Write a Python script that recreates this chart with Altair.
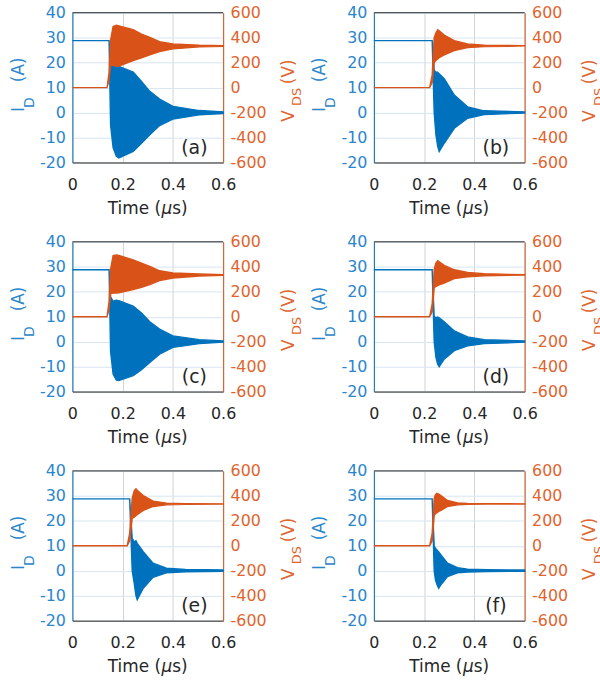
import altair as alt
import pandas as pd

# ---------------- data (envelopes of the ringing) ----------------
# time in microseconds, current envelope (A), voltage envelope (V)
t_a   = [0, 0.138, 0.146, 0.152, 0.162, 0.175, 0.185, 0.242, 0.275, 0.308, 0.347, 0.40, 0.505, 0.60]
ihi_a = [28.8, 28.8, 28.8, 20, 18.2, 18.9, 18.5, 16.2, 12.5, 8.5, 5.4, 2.5, 0.8, 0.3]
ilo_a = [28.8, 28.8, 28.8, -5, -14, -17.5, -18.2, -15.6, -12.3, -8.9, -5.2, -2.6, -0.9, -0.4]
vhi_a = [0, 0, 120, 380, 490, 500, 495, 464, 429, 403, 368, 350, 339, 336]
vlo_a = [0, 0, 60, 180, 178, 170, 172, 217, 238, 262, 289, 310, 326, 331]

t_b   = [0, 0.222, 0.232, 0.240, 0.247, 0.254, 0.260, 0.280, 0.320, 0.373, 0.439, 0.60]
ihi_b = [28.8, 28.8, 28.8, 17, 16.2, 16.2, 15.5, 13.6, 7, 2.3, 0.7, 0.3]
ilo_b = [28.8, 28.8, 28.8, 0, -9, -13.5, -15.6, -12.3, -6.3, -2.3, -0.8, -0.2]
vhi_b = [0, 0, 100, 400, 440, 464, 455, 421, 376, 350, 339, 336]
vlo_b = [0, 0, 40, 200, 217, 230, 240, 262, 297, 320, 328, 334]

t_c   = [0, 0.138, 0.146, 0.152, 0.162, 0.175, 0.185, 0.242, 0.275, 0.308, 0.347, 0.40, 0.505, 0.60]
ihi_c = [28.8, 28.8, 28.8, 18, 16.2, 16.6, 16.4, 14.2, 11.5, 8, 5, 2.3, 0.8, 0.3]
ilo_c = [28.8, 28.8, 28.8, -4, -13, -15.4, -15.6, -13.6, -11.2, -8.3, -5, -2.3, -0.8, -0.2]
vhi_c = [0, 0, 120, 380, 490, 495, 490, 456, 430, 403, 368, 350, 342, 336]
vlo_c = [0, 0, 60, 185, 190, 190, 192, 217, 236, 257, 289, 310, 326, 331]

t_d   = [0, 0.222, 0.232, 0.240, 0.247, 0.254, 0.260, 0.280, 0.320, 0.373, 0.439, 0.60]
ihi_d = [28.8, 28.8, 28.8, 10, 9.6, 9.9, 9.5, 8, 4.3, 1.9, 0.8, 0.3]
ilo_d = [28.8, 28.8, 28.8, 0, -6.3, -9, -10, -7, -3.6, -1.7, -0.8, -0.2]
vhi_d = [0, 0, 100, 380, 430, 448, 440, 411, 376, 355, 344, 336]
vlo_d = [0, 0, 40, 230, 244, 250, 255, 270, 305, 320, 328, 334]

t_e   = [0, 0.218, 0.228, 0.238, 0.246, 0.253, 0.258, 0.282, 0.321, 0.374, 0.45, 0.60]
ihi_e = [28.8, 28.8, 28.8, 13, 11.6, 12, 11, 7.6, 3, 1, 0.5, 0.3]
ilo_e = [28.8, 28.8, 28.8, 0, -5, -10, -11.6, -7, -2.6, -0.8, -0.4, -0.2]
vhi_e = [0, 0, 100, 380, 440, 456, 445, 403, 358, 342, 338, 336]
vlo_e = [0, 0, 40, 220, 230, 240, 250, 283, 315, 328, 332, 334]

t_f   = [0, 0.222, 0.232, 0.240, 0.245, 0.251, 0.258, 0.267, 0.293, 0.333, 0.373, 0.45, 0.60]
ihi_f = [28.8, 28.8, 28.8, 10, 9, 8.3, 7.5, 6.3, 3, 1.2, 0.6, 0.4, 0.3]
ilo_f = [28.8, 28.8, 28.8, 0, -3.6, -5.5, -7, -5.6, -2.3, -0.8, -0.5, -0.3, -0.2]
vhi_f = [0, 0, 100, 380, 410, 421, 415, 403, 363, 344, 339, 337, 336]
vlo_f = [0, 0, 40, 240, 257, 265, 275, 283, 315, 328, 332, 334, 334]

panel_labels = ["(a)", "(b)", "(c)", "(d)", "(e)", "(f)"]
x_ticks = [0, 0.2, 0.4, 0.6]
i_ticks = [-20, -10, 0, 10, 20, 30, 40]
v_ticks = [-600, -400, -200, 0, 200, 400, 600]

# ---------------- style ----------------
BLUE = "#0072BD"
ORANGE = "#D95319"
BLUE_TXT = "#2a86cc"
ORANGE_TXT = "#e0642e"
DARK = "#262626"
FONT = "DejaVu Sans"
W, H = 152, 151
LAB = 16
TIT = 17


def one(text):
    return alt.Chart(pd.DataFrame({"s": [text]}))


def rtext(text, size, color, x, y):
    return one(text).mark_text(
        text=text, fontSize=size, font=FONT, color=color, angle=270,
        align="left", baseline="alphabetic",
    ).encode(x=alt.value(x), y=alt.value(y))


def htext(text, size, color, x, y, style="normal"):
    return one(text).mark_text(
        text=text, fontSize=size, font=FONT, color=color, fontStyle=style,
        align="left", baseline="alphabetic",
    ).encode(x=alt.value(x), y=alt.value(y))


def panel(label, t, ihi, ilo, vhi, vlo):
    df = pd.DataFrame({"t": t, "ihi": ihi, "ilo": ilo, "vhi": vhi, "vlo": vlo})
    base = alt.Chart(df)
    xenc = alt.X(
        "t:Q",
        scale=alt.Scale(domain=[0, 0.6], nice=False, zero=False),
        axis=alt.Axis(
            values=x_ticks, labelExpr="'' + datum.value", title=None,
            grid=True, gridColor="#d2d2d2", gridWidth=1, labelFlush=False,
            domainColor=DARK, domainWidth=1, ticks=False,
            labelColor=DARK, labelFontSize=LAB, labelPadding=14, labelFont=FONT,
        ),
    )
    cur = base.mark_area(color=BLUE, stroke=BLUE, strokeWidth=1.4, opacity=1).encode(
        x=xenc,
        y=alt.Y(
            "ilo:Q",
            scale=alt.Scale(domain=[-20, 40], nice=False, zero=False),
            axis=alt.Axis(
                orient="left", values=i_ticks, labelExpr="'' + datum.value", title=None,
                grid=True, gridColor="#d6e5f2", gridWidth=1,
                domainColor=BLUE, domainWidth=1, ticks=False,
                labelColor=BLUE_TXT, labelFontSize=LAB, labelPadding=7, labelFont=FONT,
            ),
        ),
        y2="ihi:Q",
    )
    vol = base.mark_area(color=ORANGE, stroke=ORANGE, strokeWidth=1.4, opacity=1).encode(
        x=xenc,
        y=alt.Y(
            "vlo:Q",
            scale=alt.Scale(domain=[-600, 600], nice=False, zero=False),
            axis=alt.Axis(
                orient="right", values=v_ticks, labelExpr="'' + datum.value", title=None,
                grid=False, domainColor=ORANGE, domainWidth=1, ticks=False,
                labelColor=ORANGE_TXT, labelFontSize=LAB, labelPadding=7, labelFont=FONT,
            ),
        ),
        y2="vhi:Q",
    )
    top = one("").mark_rule(color=DARK, strokeWidth=1).encode(
        x=alt.value(0), x2=alt.value(W), y=alt.value(0)
    )
    tag = one(label).mark_text(
        fontSize=19, font=FONT, color=DARK, align="center", baseline="middle"
    ).encode(text="s:N", x=alt.value(123), y=alt.value(136))

    # x axis title  Time (μs)  with italic μ
    x0 = W / 2 - 40.3
    ty = H + 52
    x_title = [
        htext("Time (", TIT, DARK, x0, ty),
        htext("μ", TIT, DARK, x0 + 54.2, ty, "italic"),
        htext("s)", TIT, DARK, x0 + 65.0, ty),
    ]
    # left axis title  I_D (A)  (rotated, subscript D)
    lx = -49
    left_title = [
        rtext("I", 17, BLUE_TXT, lx, 100),
        rtext("D", 14, BLUE_TXT, lx + 10, 96),
        rtext("(A)", 17, BLUE_TXT, lx, 70),
    ]
    # right axis title  V_DS (V)
    rx = W + 71
    right_title = [
        rtext("V", 17, ORANGE_TXT, rx, 110),
        rtext("DS", 13, ORANGE_TXT, rx + 8, 94),
        rtext("(V)", 17, ORANGE_TXT, rx, 72),
    ]

    return (
        alt.layer(cur, vol, top, tag, *x_title, *left_title, *right_title)
        .resolve_scale(y="independent")
        .properties(width=W, height=H)
    )


panels = [
    panel(panel_labels[0], t_a, ihi_a, ilo_a, vhi_a, vlo_a),
    panel(panel_labels[1], t_b, ihi_b, ilo_b, vhi_b, vlo_b),
    panel(panel_labels[2], t_c, ihi_c, ilo_c, vhi_c, vlo_c),
    panel(panel_labels[3], t_d, ihi_d, ilo_d, vhi_d, vlo_d),
    panel(panel_labels[4], t_e, ihi_e, ilo_e, vhi_e, vlo_e),
    panel(panel_labels[5], t_f, ihi_f, ilo_f, vhi_f, vlo_f),
]

chart = (
    alt.concat(*panels, columns=2, spacing={"row": 80, "column": 152}, bounds="flush")
    .configure_view(stroke=None)
    .configure(font=FONT, background="white")
    .properties(padding={"left": 9, "top": 1, "right": -7, "bottom": 0})
)

chart.save("out.html", embed_options={"renderer": "svg", "actions": False})
